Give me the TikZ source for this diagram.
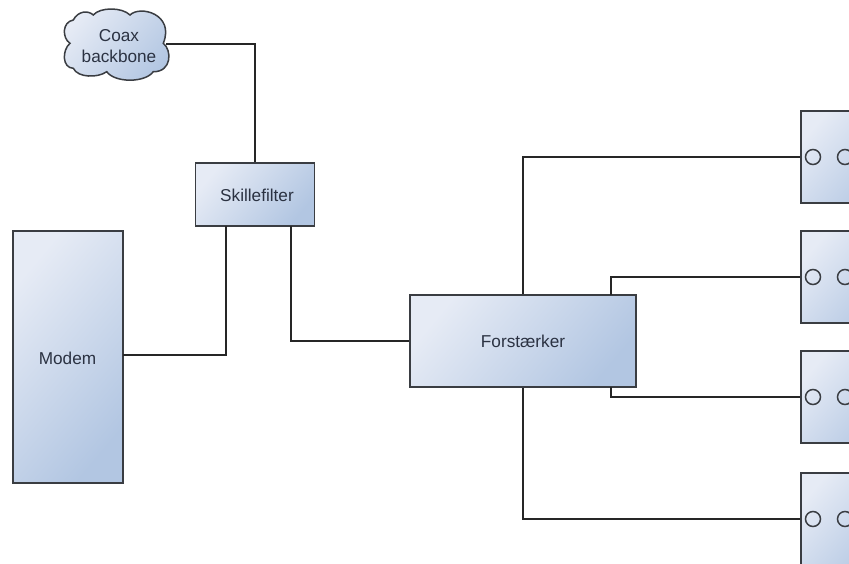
\documentclass[tikz,border=0pt]{standalone}
\usepackage{fontspec}
\setmainfont{Liberation Sans}
\definecolor{lineC}{HTML}{3A3D42}
\definecolor{txtC}{HTML}{2B3242}
\definecolor{lightC}{HTML}{E6EBF5}
\definecolor{darkC}{HTML}{B2C6E2}
\tikzset{
  x=1pt,y=-1pt,
  shadefill/.style={left color=lightC,right color=darkC,shading angle=50},
  labeltext/.style={text=txtC,font=\fontsize{17.2}{21}\selectfont,align=center,inner sep=0pt},
  shadedbox/.style={draw=lineC,line width=1.5pt,rectangle,inner sep=0pt,shadefill,labeltext},
  portc/.style={circle,draw=lineC,line width=1.5pt,minimum size=15pt,inner sep=0pt},
  wire/.style={draw=black!85,line width=1.5pt}
}
\begin{document}
\begin{tikzpicture}
\useasboundingbox (0,0) rectangle (849,563);
\clip (0,0) rectangle (849,563);
\fill[white] (0,0) rectangle (849,563);
\path[draw=lineC,line width=1.5pt,shadefill]
  (73.3,20) .. controls (78,11) and (88,10) .. (93.3,15)
  .. controls (100,7) and (122,7) .. (130,15)
  .. controls (140,5) and (175,14) .. (163.3,43.3)
  .. controls (172,50) and (172,72) .. (153.3,71.7)
  .. controls (145,83) and (115,83) .. (106.7,71.7)
  .. controls (98,78) and (78,78) .. (73.3,68.3)
  .. controls (62,68) and (62,50) .. (70,43.3)
  .. controls (62,38) and (62,22) .. (73.3,20) -- cycle;
\node[labeltext] (cloud) at (119,46) {Coax\\backbone};
\coordinate (cloudout) at (166,44);
\node[shadedbox,minimum width=119pt,minimum height=63pt] (skille) at (255,194.5) {};
\node[labeltext] (skilletxt) at (257,195) {Skillefilter};
\node[shadedbox,minimum width=110pt,minimum height=252pt] (modem) at (68,357) {};
\node[labeltext] (modemtxt) at (67.5,358) {Modem};
\node[shadedbox,minimum width=226pt,minimum height=92pt] (forst) at (523,341) {Forstærker};
\node[shadedbox,minimum width=100pt,minimum height=92pt] (b1) at (851,157) {};
\node[shadedbox,minimum width=100pt,minimum height=92pt] (b2) at (851,277) {};
\node[shadedbox,minimum width=100pt,minimum height=92pt] (b3) at (851,397) {};
\node[shadedbox,minimum width=100pt,minimum height=92pt] (b4) at (851,519) {};
\foreach \n/\y in {1/157,2/277,3/397,4/519}{
  \node[portc] (p\n a) at (813,\y) {};
  \node[portc] (p\n b) at (845,\y) {};
}
\coordinate (modemout) at (123,355);
\coordinate (skilleA) at (226,226);
\coordinate (skilleB) at (291,226);
\coordinate (forstNE) at (611,295);
\coordinate (forstSE) at (611,387);
\draw[wire] (cloudout) -| (skille.north);
\draw[wire] (modemout) -| (skilleA);
\draw[wire] (skilleB) |- (forst.west);
\draw[wire] (forst.north) |- (b1.west);
\draw[wire] (forstNE) |- (b2.west);
\draw[wire] (forstSE) |- (b3.west);
\draw[wire] (forst.south) |- (b4.west);
\end{tikzpicture}
\end{document}
